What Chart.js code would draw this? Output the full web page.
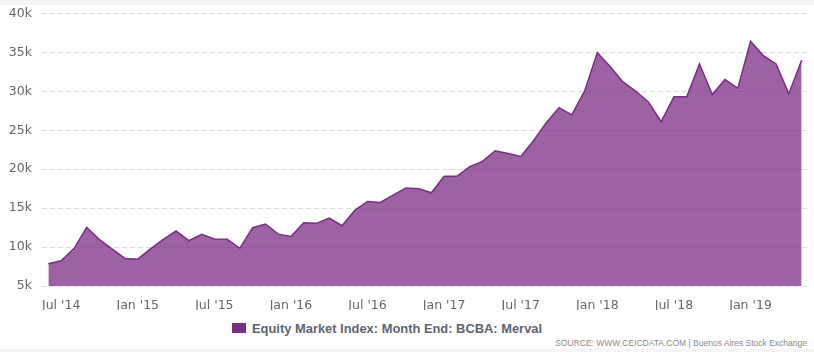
<!DOCTYPE html>
<html>
<head>
<meta charset="utf-8">
<script src="https://cdn.jsdelivr.net/npm/chart.js@4/dist/chart.umd.min.js"></script>
<style>
  html, body { margin: 0; padding: 0; background: #fff; }
  #page { position: relative; width: 814px; height: 352px; overflow: hidden; background: #fff; }
  #topbar { position: absolute; left: 0; top: 0; width: 814px; height: 5px; background: #f5f5f5; }
  #botbar { position: absolute; left: 0; top: 349px; width: 814px; height: 3px; background: #f5f5f5; }
  #chart { position: absolute; left: 0; top: -4px; }
  #legend {
    position: absolute; left: 232px; top: 320px; height: 16px;
    font: bold 12.9px "Liberation Sans", Arial, sans-serif; color: #5d6470;
    display: flex; align-items: center; white-space: nowrap;
  }
  #legend .swatch { width: 14px; height: 10px; background: #7b2d84; margin-right: 6px; }
  #source {
    position: absolute; right: 7px; top: 338px;
    font: 8.5px "Liberation Sans", Arial, sans-serif; color: #8a8a8a; white-space: nowrap;
  }
</style>
</head>
<body>
<div id="page">
  <canvas id="chart" width="814" height="314"></canvas>
  <div id="topbar"></div>
  <div id="legend"><span class="swatch"></span><span id="legendText"></span></div>
  <div id="source">SOURCE: WWW.CEICDATA.COM | Buenos Aires Stock Exchange</div>
  <div id="botbar"></div>
</div>
<script>
const seriesName = 'Equity Market Index: Month End: BCBA: Merval'

const months = [
  "Jun '14", "Jul '14", "Aug '14", "Sep '14", "Oct '14", "Nov '14", "Dec '14",
  "Jan '15", "Feb '15", "Mar '15", "Apr '15", "May '15", "Jun '15", "Jul '15", "Aug '15", "Sep '15", "Oct '15", "Nov '15", "Dec '15",
  "Jan '16", "Feb '16", "Mar '16", "Apr '16", "May '16", "Jun '16", "Jul '16", "Aug '16", "Sep '16", "Oct '16", "Nov '16", "Dec '16",
  "Jan '17", "Feb '17", "Mar '17", "Apr '17", "May '17", "Jun '17", "Jul '17", "Aug '17", "Sep '17", "Oct '17", "Nov '17", "Dec '17",
  "Jan '18", "Feb '18", "Mar '18", "Apr '18", "May '18", "Jun '18", "Jul '18", "Aug '18", "Sep '18", "Oct '18", "Nov '18", "Dec '18",
  "Jan '19", "Feb '19", "Mar '19", "Apr '19", "May '19"
]

const merval = [
  7850, 8230, 9810, 12530, 10960, 9730, 8540,
  8450, 9770, 11000, 12060, 10830, 11640, 11040, 11000, 9850, 12480, 12960, 11660,
  11350, 13130, 13050, 13730, 12750, 14710, 15860, 15730, 16660, 17600, 17480, 16970,
  19090, 19090, 20330, 21000, 22370, 22030, 21650, 23650, 25980, 27900, 26970, 30030,
  34970, 33200, 31220, 30030, 28630, 26110, 29300, 29300, 33520, 29600, 31520, 30380,
  36420, 34590, 33520, 29690, 33990
]

const yTicks = [5000, 10000, 15000, 20000, 25000, 30000, 35000, 40000]

document.getElementById('legendText').textContent = seriesName

const tickFont = { family: '"DejaVu Sans", sans-serif', size: 12.5 }
const tickColor = '#666'

new Chart(document.getElementById('chart').getContext('2d'), {
  type: 'line',
  data: {
    labels: months,
    datasets: [{
      label: seriesName,
      data: merval,
      borderColor: '#7b2d84',
      borderWidth: 1.5,
      backgroundColor: 'rgba(123, 45, 132, 0.75)',
      fill: 'start',
      pointRadius: 0,
      tension: 0,
    }],
  },
  options: {
    responsive: false,
    animation: false,
    layout: { padding: { top: 8, right: 6, left: 0, bottom: 0 } },
    plugins: { legend: { display: false }, tooltip: { enabled: false } },
    scales: {
      x: {
        offset: true,
        grid: { display: false },
        border: { display: false },
        ticks: {
          autoSkip: false,
          maxRotation: 0,
          padding: 4,
          color: tickColor,
          font: tickFont,
          callback: (v, i) => /^(Jan|Jul)/.test(months[i]) ? months[i] : null,
        },
        afterFit: s => { s.height = 24 },
      },
      y: {
        min: 5000,
        max: 40000,
        afterBuildTicks: s => { s.ticks = yTicks.map(value => ({ value })) },
        grid: { color: '#dadada', lineWidth: 1, drawTicks: false },
        border: { display: false, dash: [5, 3] },
        ticks: {
          padding: 10,
          color: tickColor,
          font: tickFont,
          callback: v => v / 1000 + 'k',
        },
        afterFit: s => { s.width = 42 },
      },
    },
  },
})
</script>
</body>
</html>
